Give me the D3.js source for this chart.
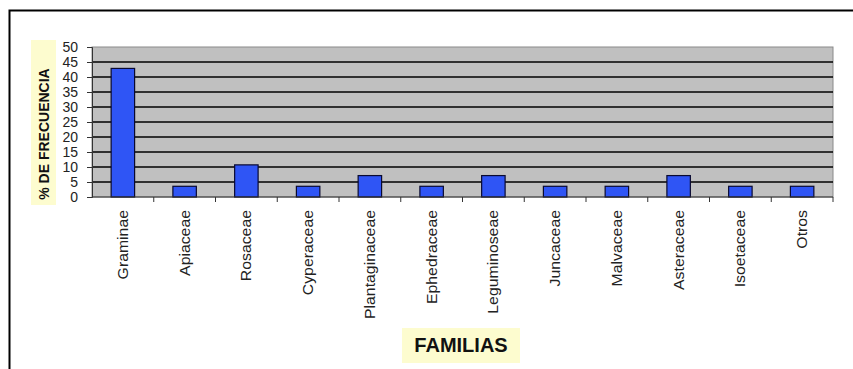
<!DOCTYPE html>
<html>
<head>
<meta charset="utf-8">
<script src="https://cdn.jsdelivr.net/npm/d3@7"></script>
<style>
  html, body { margin: 0; padding: 0; background: #fff; }
  svg { display: block; font-family: Arial, "Liberation Sans", sans-serif; }
</style>
</head>
<body>
<svg id="chart" width="853" height="369"></svg>
<script>
// Familias vs % de frecuencia (28 registros en total)
const familias = [
  "Graminae", "Apiaceae", "Rosaceae", "Cyperaceae", "Plantaginaceae",
  "Ephedraceae", "Leguminoseae", "Juncaceae", "Malvaceae", "Asteraceae",
  "Isoetaceae", "Otros"
];
const frecuencia = [42.86, 3.57, 10.71, 3.57, 7.14, 3.57, 7.14, 3.57, 3.57, 7.14, 3.57, 3.57];
const yTicks = [0, 5, 10, 15, 20, 25, 30, 35, 40, 45, 50];

const svg = d3.select("#chart");

const plot = { left: 92, right: 833, top: 47, bottom: 197 };

// outer frame: only the left and top edges show in the picture
svg.append("path")
  .attr("d", "M9.5,369 V10.5 H853")
  .attr("fill", "none")
  .attr("stroke", "#000")
  .attr("stroke-width", 2);

const x = d3.scaleBand()
  .domain(familias)
  .range([plot.left, plot.right])
  .paddingInner(0.62)
  .paddingOuter(0.31);

const xBand = d3.scaleBand()
  .domain(familias)
  .range([plot.left, plot.right]);

const y = d3.scaleLinear()
  .domain([0, 50])
  .range([plot.bottom, plot.top]);

// plot background
svg.append("rect")
  .attr("x", plot.left).attr("y", plot.top)
  .attr("width", plot.right - plot.left)
  .attr("height", plot.bottom - plot.top)
  .attr("fill", "#c0c0c0")
  .attr("stroke", "#8a8a8a")
  .attr("stroke-width", 1);

// gridlines
svg.append("g")
  .selectAll("line")
  .data(yTicks.filter((t) => t > 0 && t < 50))
  .join("line")
  .attr("x1", plot.left).attr("x2", plot.right)
  .attr("y1", (d) => y(d)).attr("y2", (d) => y(d))
  .attr("stroke", "#000")
  .attr("stroke-width", 1.3);

// bars
svg.append("g")
  .selectAll("rect")
  .data(familias)
  .join("rect")
  .attr("x", (d) => x(d))
  .attr("y", (d, i) => y(frecuencia[i]))
  .attr("width", x.bandwidth())
  .attr("height", (d, i) => y(0) - y(frecuencia[i]))
  .attr("fill", "#2f55f5")
  .attr("stroke", "#0a0a30")
  .attr("stroke-width", 1.2);

// y axis
const yAxis = svg.append("g")
  .attr("transform", `translate(${plot.left},0)`)
  .call(d3.axisLeft(y).tickValues(yTicks).tickSize(5).tickPadding(9));
yAxis.select(".domain").attr("stroke", "#333").attr("stroke-width", 1);
yAxis.selectAll(".tick line").attr("stroke", "#333");
yAxis.selectAll(".tick text")
  .attr("font-family", "Arial, 'Liberation Sans', sans-serif")
  .attr("font-size", 14)
  .attr("fill", "#222");

// x axis: ticks at category boundaries
const xAxis = svg.append("g")
  .attr("transform", `translate(0,${plot.bottom})`);
xAxis.append("line")
  .attr("x1", plot.left).attr("x2", plot.right)
  .attr("stroke", "#333");
xAxis.selectAll("line.sep")
  .data(familias)
  .join("line")
  .attr("class", "sep")
  .attr("x1", (d) => xBand(d) + xBand.bandwidth())
  .attr("x2", (d) => xBand(d) + xBand.bandwidth())
  .attr("y1", 0).attr("y2", 5)
  .attr("stroke", "#333");

xAxis.selectAll("text")
  .data(familias)
  .join("text")
  .attr("transform", (d) =>
    `translate(${xBand(d) + xBand.bandwidth() / 2 + 5},13) rotate(-90) scale(1.13,1)`)
  .attr("text-anchor", "end")
  .attr("font-size", 14)
  .attr("fill", "#222")
  .text((d) => d);

// y axis title
svg.append("rect")
  .attr("x", 31).attr("y", 40)
  .attr("width", 25).attr("height", 165)
  .attr("fill", "#fdfccf");
svg.append("text")
  .attr("transform", "translate(49,134) rotate(-90)")
  .attr("text-anchor", "middle")
  .attr("font-size", 14)
  .attr("font-weight", "bold")
  .attr("fill", "#111")
  .text("% DE FRECUENCIA");

// x axis title
svg.append("rect")
  .attr("x", 402).attr("y", 328)
  .attr("width", 118).attr("height", 35)
  .attr("fill", "#fdfccf");
svg.append("text")
  .attr("x", 461).attr("y", 352)
  .attr("text-anchor", "middle")
  .attr("font-size", 20)
  .attr("font-weight", "bold")
  .attr("fill", "#111")
  .text("FAMILIAS");
</script>
</body>
</html>
